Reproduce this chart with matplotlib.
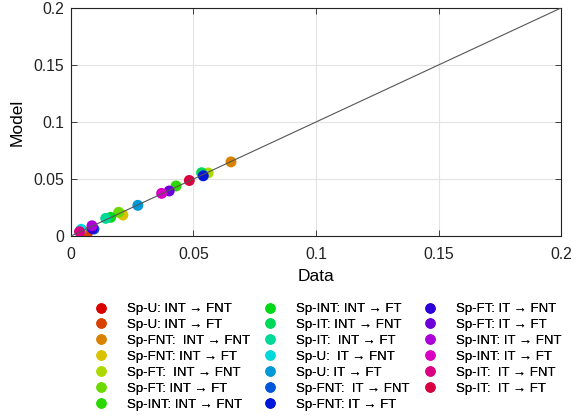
import numpy as np
import matplotlib
matplotlib.use("Agg")
import matplotlib.pyplot as plt
from matplotlib.colors import hsv_to_rgb
from matplotlib.lines import Line2D

plt.rcParams['font.family'] = ['Liberation Sans', 'DejaVu Sans']

# --- data ---
ARR = "\u2192"
labels = [
    f"Sp-U: INT {ARR} FNT", f"Sp-U: INT {ARR} FT",
    f"Sp-FNT:  INT {ARR} FNT", f"Sp-FNT: INT {ARR} FT",
    f"Sp-FT:  INT {ARR} FNT", f"Sp-FT: INT {ARR} FT",
    f"Sp-INT: INT {ARR} FNT", f"Sp-INT: INT {ARR} FT",
    f"Sp-IT: INT {ARR} FNT", f"Sp-IT:  INT {ARR} FT",
    f"Sp-U:  IT {ARR} FNT", f"Sp-U: IT {ARR} FT",
    f"Sp-FNT:  IT {ARR} FNT", f"Sp-FNT: IT {ARR} FT",
    f"Sp-FT: IT {ARR} FNT", f"Sp-FT: IT {ARR} FT",
    f"Sp-INT: IT {ARR} FNT", f"Sp-INT: IT {ARR} FT",
    f"Sp-IT:  IT {ARR} FNT", f"Sp-IT:  IT {ARR} FT",
]
data_vals = [0.0050, 0.0067, 0.0653, 0.0212, 0.0560, 0.0195, 0.0429, 0.0162,
             0.0533, 0.0142, 0.0042, 0.0273, 0.0094, 0.0540, 0.0088, 0.0401,
             0.0086, 0.0370, 0.0035, 0.0483]
model_vals = [0.0040, 0.0024, 0.0650, 0.0184, 0.0553, 0.0208, 0.0439, 0.0164,
              0.0555, 0.0155, 0.0059, 0.0269, 0.0061, 0.0528, 0.0065, 0.0395,
              0.0090, 0.0374, 0.0038, 0.0487]
ticks = [0, 0.05, 0.1, 0.15, 0.2]
tick_labels = ["0", "0.05", "0.1", "0.15", "0.2"]

n = len(labels)
hues = np.arange(n) / n
colors = [hsv_to_rgb((h, 1.0, 0.85)) for h in hues]

fig = plt.figure(figsize=(5.72, 4.17), dpi=100)
ax = fig.add_axes([0.124, 0.434, 0.857, 0.547])

for i in range(n):
    ax.scatter(data_vals[i], model_vals[i], s=62, color=colors[i],
               edgecolors='none', zorder=3)
ax.plot([0, 0.2], [0, 0.2], color='#555555', lw=0.8, zorder=4)

ax.set_xlim(0, 0.2)
ax.set_ylim(0, 0.2)
ax.set_xticks(ticks)
ax.set_xticklabels(tick_labels)
ax.set_yticks(ticks)
ax.set_yticklabels(tick_labels)
ax.grid(True, color='#e3e3e3', lw=0.8)
ax.set_axisbelow(True)
ax.tick_params(direction='in', top=True, right=True, labelsize=11.3,
               length=4, width=0.6, colors='#222222', pad=5)
ax.tick_params(axis='x', pad=8)
for sp in ax.spines.values():
    sp.set_linewidth(0.8)
    sp.set_color('#222222')
ax.set_xlabel("Data", fontsize=12.5, labelpad=5)
ax.set_ylabel("Model", fontsize=12.5, labelpad=6)

# legend split into three columns like the original
groups = [range(0, 7), range(7, 14), range(14, 20)]
anchors = [0.165, 0.4605, 0.740]
for g, xa in zip(groups, anchors):
    handles = [Line2D([], [], ls='none', marker='o', markersize=7.5,
                      markerfacecolor=colors[i], markeredgecolor='none')
               for i in g]
    leg = fig.legend(handles, [labels[i] for i in g], loc='upper left',
                     bbox_to_anchor=(xa, 0.2735), frameon=False, fontsize=9.5,
                     handlelength=1.0, handletextpad=1.47, labelspacing=0.28,
                     borderaxespad=0, borderpad=0)
    fig.add_artist(leg)

fig.savefig("out.png", dpi=100)
